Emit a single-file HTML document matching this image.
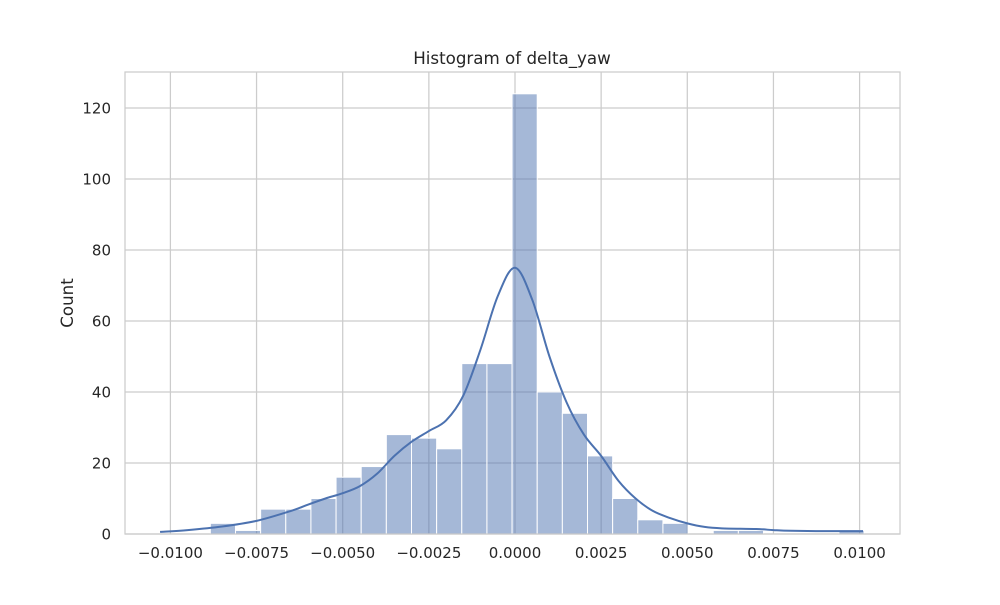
<!DOCTYPE html>
<html><head><meta charset="utf-8"><style>
body{margin:0;background:#fff}
svg text{font-family:"DejaVu Sans","Liberation Sans",sans-serif;fill:#262626}
</style></head><body>
<svg id="chart" width="1000" height="600" viewBox="0 0 1000 600" xmlns="http://www.w3.org/2000/svg">
<rect width="1000" height="600" fill="#fff"/>
<g id="grid"></g><g id="bars"></g><g id="kde"></g>
<rect x="125" y="72" width="775" height="462" fill="none" stroke="#cccccc" stroke-width="1.25"/>
<g id="ticks"></g>
<text x="512" y="64" text-anchor="middle" font-size="16.7">Histogram of delta_yaw</text>
<text transform="translate(73,303) rotate(-90)" text-anchor="middle" font-size="16.7">Count</text>
</svg>
<script>
const binStart = -0.0103;
const binEnd = 0.01013;
const counts = [0,0,3,1,7,7,10,16,19,28,27,24,48,48,124,40,34,22,10,4,3,0,1,1,0,0,0,1];
const kdeX = [-0.0103,-0.0095,-0.0085,-0.0075,-0.0065,-0.006,-0.0055,-0.005,-0.0045,-0.004,-0.0035,-0.003,-0.0025,-0.002,-0.0015,-0.001,-0.0005,0,0.0005,0.001,0.0015,0.002,0.0025,0.003,0.0035,0.004,0.0045,0.005,0.0055,0.006,0.007,0.0075,0.008,0.009,0.0101];
const kdeY = [0.6,1.1,2.1,3.7,6.5,8.3,10,11.5,13.5,17,22,26,29,32,39,52,67,75,66,50,37,28,22,15,10,6.5,4.5,3,2,1.6,1.4,1.1,0.9,0.8,0.8];
const xTicks = [-0.01,-0.0075,-0.005,-0.0025,0,0.0025,0.005,0.0075,0.01];
const xTickLabels = ["\u22120.0100","\u22120.0075","\u22120.0050","\u22120.0025","0.0000","0.0025","0.0050","0.0075","0.0100"];
const yTicks = [0,20,40,60,80,100,120];
const yTickLabels = ["0","20","40","60","80","100","120"];

const NS="http://www.w3.org/2000/svg";
const X=v=>515+v*34460;
const Y=c=>534-c*3.55;
function mk(tag,attrs,parent){const e=document.createElementNS(NS,tag);for(const k in attrs)e.setAttribute(k,attrs[k]);parent.appendChild(e);return e;}
const grid=document.getElementById('grid'),ticks=document.getElementById('ticks'),bars=document.getElementById('bars'),kde=document.getElementById('kde');
xTicks.forEach((t,i)=>{
  const l=mk('line',{x1:X(t),x2:X(t),y1:72,y2:534,stroke:'#cccccc','stroke-width':1.25},grid);
  
  
  const tx=mk('text',{x:X(t),y:558,'text-anchor':'middle','font-size':15},ticks);
  tx.textContent=xTickLabels[i];
  
  
});
yTicks.forEach((t,i)=>{
  const l=mk('line',{x1:125,x2:900,y1:Y(t),y2:Y(t),stroke:'#cccccc','stroke-width':1.25},grid);
  
  
  const tx=mk('text',{x:111,y:Y(t)+5.5,'text-anchor':'end','font-size':15},ticks);
  tx.textContent=yTickLabels[i];
  
  
});
const bw=(binEnd-binStart)/counts.length;
counts.forEach((c,i)=>{
  if(c<=0)return;
  const x0=X(binStart+i*bw),x1=X(binStart+(i+1)*bw);
  const r=mk('rect',{x:x0,y:Y(c),width:x1-x0,height:534-Y(c),fill:'rgba(76,114,176,0.5)',stroke:'#fff','stroke-width':1},bars);
  
  
});
const pts=kdeX.map((v,i)=>[X(v),Y(kdeY[i])]);
let d='M'+pts[0][0]+','+pts[0][1];
for(let i=0;i<pts.length-1;i++){
  const p0=pts[Math.max(0,i-1)],p1=pts[i],p2=pts[i+1],p3=pts[Math.min(pts.length-1,i+2)];
  const c1=[p1[0]+(p2[0]-p0[0])/6,p1[1]+(p2[1]-p0[1])/6];
  const c2=[p2[0]-(p3[0]-p1[0])/6,p2[1]-(p3[1]-p1[1])/6];
  d+=' C'+c1[0]+','+c1[1]+' '+c2[0]+','+c2[1]+' '+p2[0]+','+p2[1];
}
const path=mk('path',{d:d,fill:'none',stroke:'#4c72b0','stroke-width':2},kde);


</script>
</body></html>
